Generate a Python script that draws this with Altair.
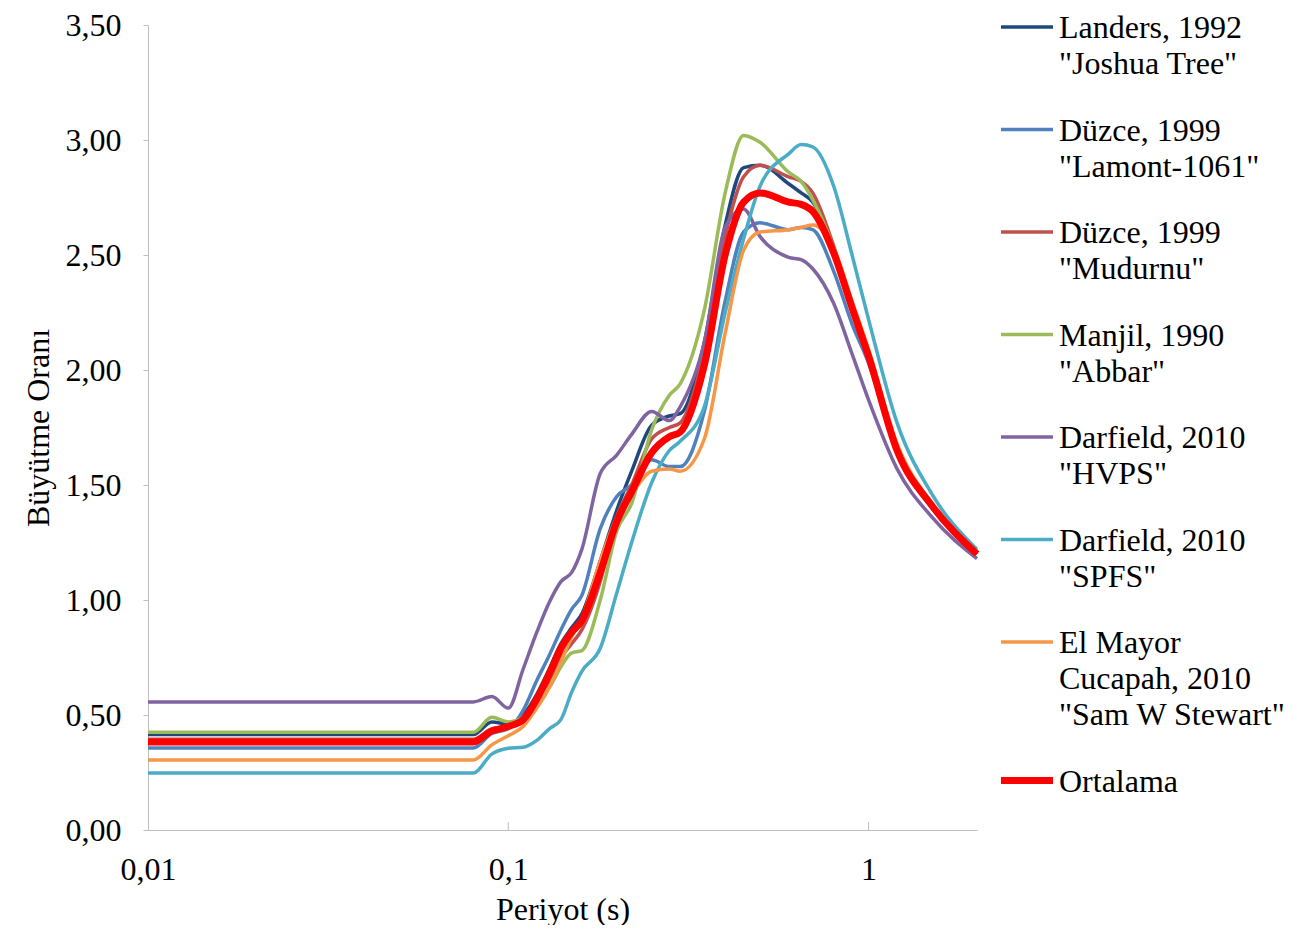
import altair as alt
import pandas as pd

periods = [0.01, 0.08, 0.09, 0.1, 0.11, 0.12, 0.13, 0.14, 0.15, 0.16, 0.18, 0.2, 0.22, 0.25, 0.28, 0.3,
           0.35, 0.4, 0.45, 0.5, 0.6, 0.65, 0.7, 0.8, 0.9, 1.0, 1.2, 1.5, 2.0]

landers = [0.415, 0.415, 0.47, 0.46, 0.50, 0.59, 0.70, 0.81, 0.88, 0.94, 1.17, 1.39, 1.56, 1.76, 1.80, 1.81,
           2.12, 2.63, 2.88, 2.89, 2.81, 2.77, 2.73, 2.53, 2.27, 2.06, 1.65, 1.41, 1.20]
lamont = [0.357, 0.357, 0.42, 0.44, 0.52, 0.65, 0.76, 0.87, 0.96, 1.02, 1.31, 1.45, 1.50, 1.61, 1.58, 1.58,
          1.82, 2.30, 2.60, 2.64, 2.61, 2.62, 2.61, 2.43, 2.20, 2.03, 1.64, 1.40, 1.20]
mudurnu = [0.395, 0.395, 0.44, 0.45, 0.47, 0.55, 0.65, 0.75, 0.81, 0.87, 1.08, 1.36, 1.50, 1.70, 1.75, 1.77,
           2.08, 2.58, 2.84, 2.89, 2.84, 2.82, 2.77, 2.54, 2.28, 2.07, 1.66, 1.41, 1.20]
abbar = [0.425, 0.425, 0.49, 0.47, 0.49, 0.57, 0.62, 0.71, 0.77, 0.78, 1.00, 1.30, 1.42, 1.74, 1.89, 1.94,
         2.26, 2.77, 3.02, 2.99, 2.86, 2.82, 2.74, 2.53, 2.28, 2.05, 1.64, 1.40, 1.20]
hvps = [0.557, 0.557, 0.58, 0.53, 0.70, 0.86, 0.99, 1.08, 1.12, 1.22, 1.55, 1.63, 1.72, 1.82, 1.78, 1.84,
        2.12, 2.62, 2.70, 2.58, 2.49, 2.48, 2.44, 2.29, 2.07, 1.87, 1.57, 1.36, 1.18]
spfs = [0.248, 0.248, 0.33, 0.355, 0.36, 0.39, 0.44, 0.48, 0.60, 0.69, 0.79, 1.03, 1.25, 1.51, 1.65, 1.69,
        1.84, 2.25, 2.57, 2.80, 2.94, 2.98, 2.97, 2.80, 2.50, 2.22, 1.77, 1.46, 1.22]
stewart = [0.304, 0.304, 0.37, 0.41, 0.45, 0.53, 0.62, 0.73, 0.84, 0.92, 1.17, 1.36, 1.46, 1.56, 1.57, 1.56,
           1.70, 2.16, 2.52, 2.60, 2.61, 2.62, 2.63, 2.53, 2.30, 2.09, 1.68, 1.42, 1.21]
ortalama = [0.383, 0.383, 0.43, 0.45, 0.48, 0.57, 0.68, 0.79, 0.86, 0.91, 1.12, 1.34, 1.47, 1.64, 1.71, 1.73,
            2.02, 2.50, 2.73, 2.77, 2.73, 2.72, 2.69, 2.51, 2.27, 2.06, 1.65, 1.41, 1.20]

names = [
    "Landers, 1992\n\"Joshua Tree\"",
    "Düzce, 1999\n\"Lamont-1061\"",
    "Düzce, 1999\n\"Mudurnu\"",
    "Manjil, 1990\n\"Abbar\"",
    "Darfield, 2010\n\"HVPS\"",
    "Darfield, 2010\n\"SPFS\"",
    "El Mayor\nCucapah, 2010\n\"Sam W Stewart\"",
    "Ortalama",
]
series = [landers, lamont, mudurnu, abbar, hvps, spfs, stewart, ortalama]
colors = ["#1F497D", "#4F81BD", "#C0504D", "#9BBB59", "#8064A2", "#4BACC6", "#F79646", "#FF0000"]
widths = [3.5, 3.5, 3.5, 3.5, 3.5, 3.5, 3.5, 7]

x_ticks = [0.01, 0.1, 1]
inner_ticks = [0.1, 1]
y_ticks = [0, 0.5, 1, 1.5, 2, 2.5, 3, 3.5]

rows = []
for order, (name, vals) in enumerate(zip(names, series)):
    for t, v in zip(periods, vals):
        rows.append({"T": t, "v": v, "series": name, "o": order})
df = pd.DataFrame(rows)

FONT = "Liberation Serif"
W, H = 829, 805

xscale = alt.Scale(type="log", domain=[0.01, 2], nice=False)
xaxis = alt.Axis(values=x_ticks, title="Periyot (s)", ticks=False, labelFlush=False,
                 labelOverlap=False, grid=False,
                 labelExpr="replace(toString(datum.value), '.', ',')",
                 labelPadding=24, titlePadding=9)
LABEL_EXPR = "split(datum.label, '\\n')"

lines = alt.Chart(df).mark_line(interpolate="monotone").encode(
    x=alt.X("T:Q", scale=xscale, axis=xaxis),
    y=alt.Y("v:Q", scale=alt.Scale(domain=[0, 3.5], nice=False),
            axis=alt.Axis(values=y_ticks, title="Büyütme Oranı", grid=False, labelFlush=False,
                          tickSize=5, labelPadding=22, titlePadding=10,
                          labelExpr="replace(format(datum.value, '.2f'), '.', ',')")),
    color=alt.Color("series:N", scale=alt.Scale(domain=names, range=colors),
                    legend=alt.Legend(title=None, labelExpr=LABEL_EXPR)),
    strokeWidth=alt.StrokeWidth("series:N",
                                scale=alt.Scale(type="ordinal", domain=names, range=widths),
                                legend=alt.Legend(title=None, labelExpr=LABEL_EXPR)),
    order=alt.Order("o:Q"),
)

tick_df = pd.DataFrame({"tick": inner_ticks})
inner = alt.Chart(tick_df).mark_rule(color="#BFBFBF", strokeWidth=1).encode(
    x=alt.X("tick:Q", scale=xscale, axis=xaxis),
    y=alt.value(H),
    y2=alt.value(H - 8),
)

chart = alt.layer(lines, inner).properties(
    width=W, height=H,
    padding={"left": 14, "top": 1, "right": 5, "bottom": 0},
).configure_view(stroke=None).configure_axis(
    domainColor="#BFBFBF", tickColor="#BFBFBF", labelFont=FONT, titleFont=FONT,
    labelFontSize=32, titleFontSize=32, labelColor="#000000", titleColor="#000000",
    titleFontWeight="normal",
).configure_legend(
    orient="none", legendX=W + 34, legendY=-3,
    labelFont=FONT, labelFontSize=32, labelColor="#000000", labelLimit=500,
    labelBaseline="alphabetic",
    symbolType="M-4,-1.7H4", symbolSize=169,
    rowPadding=34.5, labelOffset=16, padding=0,
)
chart.config.style = {"guide-label": {"lineHeight": 36}}

chart.save("out.html", embed_options={"renderer": "svg", "actions": False})
